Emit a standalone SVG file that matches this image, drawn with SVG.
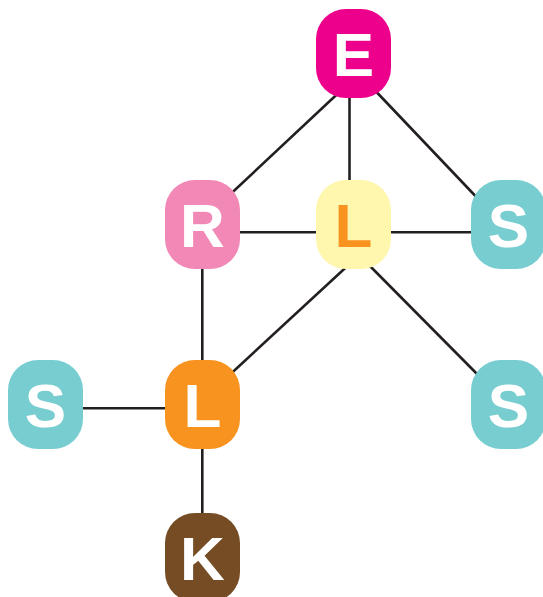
<svg xmlns="http://www.w3.org/2000/svg" width="543" height="597" viewBox="0 0 543 597">
  <style>
    .edge { stroke: #231f20; stroke-width: 2.6; fill: none; }
    .lbl { font-family: "Liberation Sans", Arial, sans-serif; font-weight: bold; font-size: 62px; text-anchor: middle; fill: #ffffff; }
    .lbl-dark { fill: #f7931e; }
  </style>
  <defs>
    <rect id="tile" width="75" height="89" rx="30" ry="30"/>
  </defs>
  <rect width="543" height="597" fill="#ffffff"/>

  <g id="connectors">
    <line class="edge" x1="348" y1="84" x2="222" y2="202"/>
    <line class="edge" x1="349.5" y1="90" x2="349.5" y2="190"/>
    <line class="edge" x1="367" y1="82" x2="483" y2="204"/>
    <line class="edge" x1="230" y1="232.3" x2="326" y2="232.3"/>
    <line class="edge" x1="381" y1="232.3" x2="481" y2="232.3"/>
    <line class="edge" x1="355" y1="259" x2="223" y2="381"/>
    <line class="edge" x1="362" y1="258" x2="485" y2="382"/>
    <line class="edge" x1="202.3" y1="260" x2="202.3" y2="370"/>
    <line class="edge" x1="75" y1="408.3" x2="175" y2="408.3"/>
    <line class="edge" x1="202.3" y1="440" x2="202.3" y2="523"/>
  </g>

  <g id="node-e">
    <use href="#tile" x="316" y="9" fill="#ec008c"/>
    <text class="lbl" x="353.5" y="76">E</text>
  </g>
  <g id="node-r">
    <use href="#tile" x="165" y="180" fill="#f288b6"/>
    <text class="lbl" x="202.5" y="247">R</text>
  </g>
  <g id="node-l-top">
    <use href="#tile" x="316" y="180" fill="#fff7ae"/>
    <text class="lbl lbl-dark" x="353.5" y="247">L</text>
  </g>
  <g id="node-s-top">
    <use href="#tile" x="471" y="180" fill="#77cdd0"/>
    <text class="lbl" x="508.5" y="247">S</text>
  </g>
  <g id="node-s-left">
    <use href="#tile" x="8" y="360" fill="#77cdd0"/>
    <text class="lbl" x="45.5" y="427">S</text>
  </g>
  <g id="node-l-mid">
    <use href="#tile" x="165" y="360" fill="#f7931e"/>
    <text class="lbl" x="202.5" y="427">L</text>
  </g>
  <g id="node-s-right">
    <use href="#tile" x="471" y="360" fill="#77cdd0"/>
    <text class="lbl" x="508.5" y="427">S</text>
  </g>
  <g id="node-k">
    <use href="#tile" x="165" y="513" fill="#754c24"/>
    <text class="lbl" x="202.5" y="580">K</text>
  </g>
</svg>
